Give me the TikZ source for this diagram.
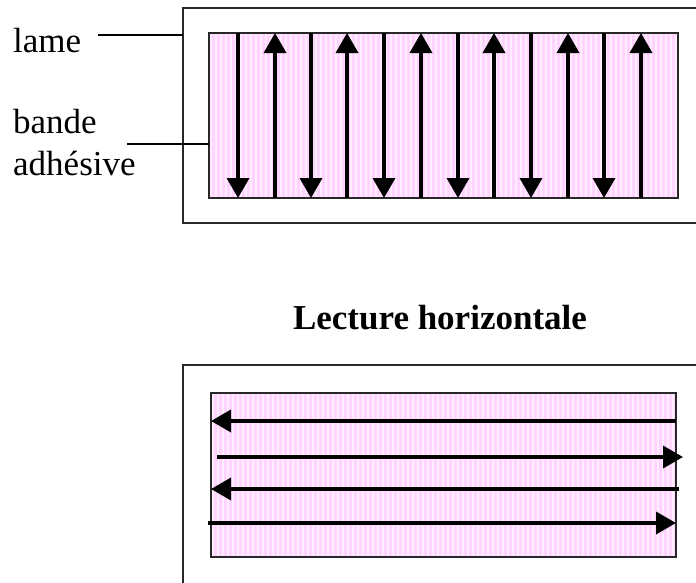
\documentclass[tikz,border=0pt]{standalone}
\usepackage{fontspec}
\setmainfont{Liberation Serif}
\usetikzlibrary{arrows.meta}
\definecolor{bandepink}{RGB}{255,212,255}
\definecolor{bandestripe}{RGB}{255,236,255}
\definecolor{framegray}{RGB}{40,40,40}
\tikzset{
  label/.style={inner sep=0pt, anchor=base west, font=\fontsize{35}{42}\selectfont},
  title/.style={inner sep=0pt, anchor=base, font=\fontsize{35}{42}\selectfont\bfseries},
  frame/.style={draw=framegray, line width=2pt, fill=white},
  leader/.style={draw=black, line width=1.6pt},
  readarrow/.style={draw=black, line width=3.6pt,
    -{Triangle[width=22pt,length=20pt]}},
}
% striped adhesive tape: pink ground with light vertical stripes
\newcommand{\tapestrip}[4]{%
  \fill[bandepink] (#1,#2) rectangle (#3,#4);
  \begin{scope}
    \clip (#1,#2) rectangle (#3,#4);
    \foreach \sx in {#1,...,#3}{%
      \pgfmathsetmacro{\rem}{mod(\sx-#1,5)}
      \ifdim\rem pt=2pt
        \fill[bandestripe] (\sx-0.8,#2) rectangle (\sx+0.8,#4);
      \fi
    }
  \end{scope}
  \draw[draw=framegray, line width=2pt] (#1,#2) rectangle (#3,#4);
}
\begin{document}
\begin{tikzpicture}[x=1pt,y=-1pt]
\useasboundingbox[fill=white] (0,0) rectangle (696,582);
\begin{scope}
\clip (0,0) rectangle (696,582);

% ---- vertical reading ----
\draw[frame] (183,8) rectangle (712,223);
\coordinate (lameedge) at (183,35);
\tapestrip{209}{33}{678}{198}
\coordinate (bandeedge) at (209,144);

\foreach \ax [count=\i] in {238,275,311,347,384,421,458,494,531,568,604,641}{
  \ifodd\i
    \draw[readarrow] (\ax,33) -- (\ax,198);
  \else
    \draw[readarrow] (\ax,198) -- (\ax,33);
  \fi
}

\node[label] (lame) at (13,52) {lame};
\node[label] (bande) at (13,133) {bande};
\node[label] (adh) at (13,175) {adhésive};
\coordinate (lamestart) at (98,35);
\coordinate (bandestart) at (127,144);
\draw[leader] (lamestart) -- (lameedge);
\draw[leader] (bandestart) -- (bandeedge);

% ---- horizontal reading ----
\node[title] (titre) at (440,329) {Lecture horizontale};

\draw[frame] (183,365) rectangle (712,600);
\tapestrip{211}{393}{676}{557}

\draw[readarrow] (676,421) -- (211,421);
\draw[readarrow] (217,457) -- (683,457);
\draw[readarrow] (679,489) -- (211,489);
\draw[readarrow] (208,523) -- (676,523);
\end{scope}
\end{tikzpicture}
\end{document}
